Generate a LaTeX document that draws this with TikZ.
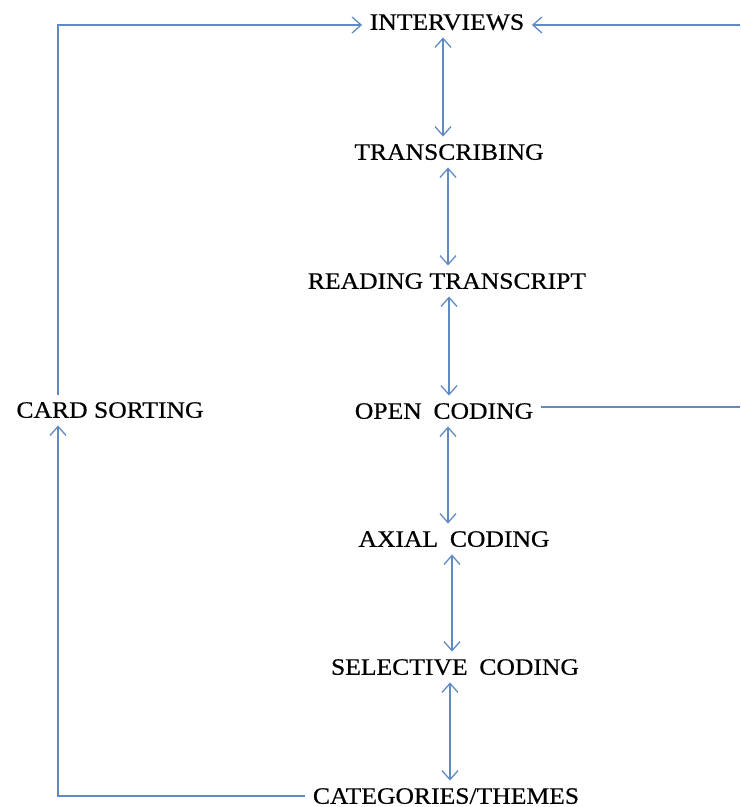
\documentclass[tikz,border=0pt]{standalone}
\usepackage{fontspec}
\setmainfont{Liberation Serif}[FakeStretch=1.09,FakeBold=0.5]
\usetikzlibrary{arrows.meta}
\definecolor{linkblue}{RGB}{96,138,196}
\tikzset{
  lbl/.style={font=\fontsize{23.5}{27}\selectfont, text height=15.5pt, text depth=0pt, inner sep=7.5pt},
  link/.style={draw=linkblue, line width=1.3pt},
  arr/.style={link, -{Straight Barb[length=9pt,width=16pt,line width=1.3pt]}},
  dbl/.style={link, {Straight Barb[length=9pt,width=16pt,line width=1.3pt]}-{Straight Barb[length=9pt,width=16pt,line width=1.3pt]}}
}
\newcommand{\wsp}{\hspace{0.5em}}
\begin{document}
\begin{tikzpicture}[x=1pt,y=-1pt]
\useasboundingbox (0,0) rectangle (740,807);
\node[lbl] (int) at (447,22) {INTERVIEWS};
\node[lbl] (tra) at (449,152) {TRANSCRIBING};
\node[lbl] (rea) at (447,281) {READING TRANSCRIPT};
\node[lbl] (ope) at (444,411) {OPEN\wsp CODING};
\node[lbl] (axi) at (454,539) {AXIAL\wsp CODING};
\node[lbl] (sel) at (455,667) {SELECTIVE\wsp CODING};
\node[lbl] (cat) at (446,796) {CATEGORIES/THEMES};
\node[lbl] (car) at (110,410) {CARD SORTING};
\coordinate (lft) at (58,796);
\coordinate (rtop) at (740,25);
\coordinate (rmid) at (740,407);
\coordinate (v1) at (443,0);
\coordinate (v2) at (448,0);
\coordinate (v3) at (449,0);
\coordinate (v4) at (448,0);
\coordinate (v5) at (452,0);
\coordinate (v6) at (450,0);
\draw[dbl] (v1 |- int.south) -- (v1 |- tra.north);
\draw[dbl] (v2 |- tra.south) -- (v2 |- rea.north);
\draw[dbl] (v3 |- rea.south) -- (v3 |- ope.north);
\draw[dbl] (v4 |- ope.south) -- (v4 |- axi.north);
\draw[dbl] (v5 |- axi.south) -- (v5 |- sel.north);
\draw[dbl] (v6 |- sel.south) -- (v6 |- cat.north);
\draw[arr] (cat.west |- lft) -| (lft |- car.south);
\draw[arr] (lft |- car.north) |- (int.west |- rtop);
\draw[link] (ope.east |- rmid) -- (rmid);
\draw[arr] (rtop) -- (rtop -| int.east);
\end{tikzpicture}
\end{document}
